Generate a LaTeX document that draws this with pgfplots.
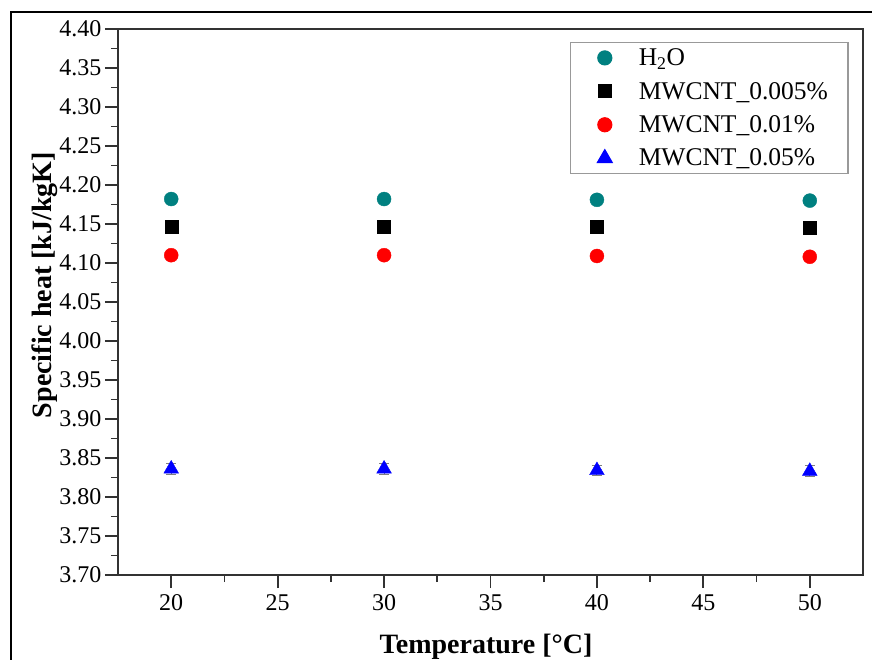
\documentclass[border=0pt]{standalone}
\usepackage{pgfplots}
\pgfplotsset{compat=1.18}
\usepackage{fontspec}
\setmainfont{Liberation Serif}
\definecolor{teal2}{RGB}{0,128,128}
\definecolor{axgray}{RGB}{50,50,50}
\begin{document}
\begin{tikzpicture}
\useasboundingbox (-118pt,-84pt) rectangle (754pt,575pt);
\draw[black,line width=1.5pt] (-107pt,-90pt) -- (-107pt,563pt) -- (760pt,563pt);
\begin{axis}[
  scale only axis, width=745pt, height=546pt,
  xmin=17.5, xmax=52.5, ymin=3.70, ymax=4.40,
  xtick={20,25,...,50}, minor x tick num=1,
  ytick={3.70,3.75,...,4.41}, minor y tick num=1,
  tick align=outside, tick pos=left,
  major tick length=13pt, minor tick length=7pt,
  axis line style={axgray, line width=1.8pt},
  tick style={axgray, line width=1.8pt},
  /pgf/number format/assume math mode=true,
  yticklabel style={/pgf/number format/fixed, /pgf/number format/fixed zerofill, /pgf/number format/precision=2, xshift=0pt},
  tick label style={font=\fontsize{24}{28}\selectfont},
  xticklabel style={yshift=-3pt},
  xlabel={Temperature [°C]},
  ylabel={Specific heat [kJ/kgK]},
  every axis x label/.style={at={(axis description cs:0.494,-0.132)}, anchor=center, font=\fontsize{28}{32}\selectfont\bfseries},
  every axis y label/.style={at={(axis description cs:-0.098,0.531)}, rotate=90, anchor=center, font=\fontsize{28}{32}\selectfont\bfseries},
  legend style={at={(axis description cs:0.607,0.976)}, anchor=north west,
    draw=gray!80, line width=1.2pt, font=\fontsize{25.5}{28}\selectfont,
    inner xsep=4pt, inner ysep=4pt, row sep=11pt},
  legend cell align=left,
  legend image code/.code={\path[draw=none,fill=none] (0pt,0pt) -- (62pt,0pt); \draw[#1] plot coordinates {(30pt,0pt)};},
  error bars/y dir=both, error bars/y explicit,
  error bars/error bar style={gray, line width=0.9pt},
  error bars/error mark options={rotate=90, mark size=5pt, gray, line width=0.9pt},
]
\addplot[only marks, mark=*, mark size=7pt, color=teal2, mark options={draw=teal2, fill=teal2}]
  coordinates {(20,4.182) (30,4.182) (40,4.181) (50,4.180)};
\addlegendentry{H\textsubscript{2}O}
\addplot[only marks, mark=square*, mark size=6.5pt, color=black, mark options={fill=black}]
  coordinates {(20,4.147) +- (0,0.005) (30,4.147) +- (0,0.005) (40,4.146) +- (0,0.005) (50,4.145) +- (0,0.005)};
\addlegendentry{MWCNT\_0.005\%\rule{14pt}{0pt}}
\addplot[only marks, mark=*, mark size=7pt, color=red, mark options={fill=red}]
  coordinates {(20,4.110) +- (0,0.006) (30,4.110) +- (0,0.006) (40,4.109) +- (0,0.006) (50,4.108) +- (0,0.006)};
\addlegendentry{MWCNT\_0.01\%}
\addplot[only marks, mark=triangle*, mark size=8.5pt, color=blue, mark options={fill=blue}]
  coordinates {(20,3.836) +- (0,0.007) (30,3.836) +- (0,0.007) (40,3.834) +- (0,0.007) (50,3.833) +- (0,0.007)};
\addlegendentry{MWCNT\_0.05\%}
\end{axis}
\end{tikzpicture}
\end{document}
